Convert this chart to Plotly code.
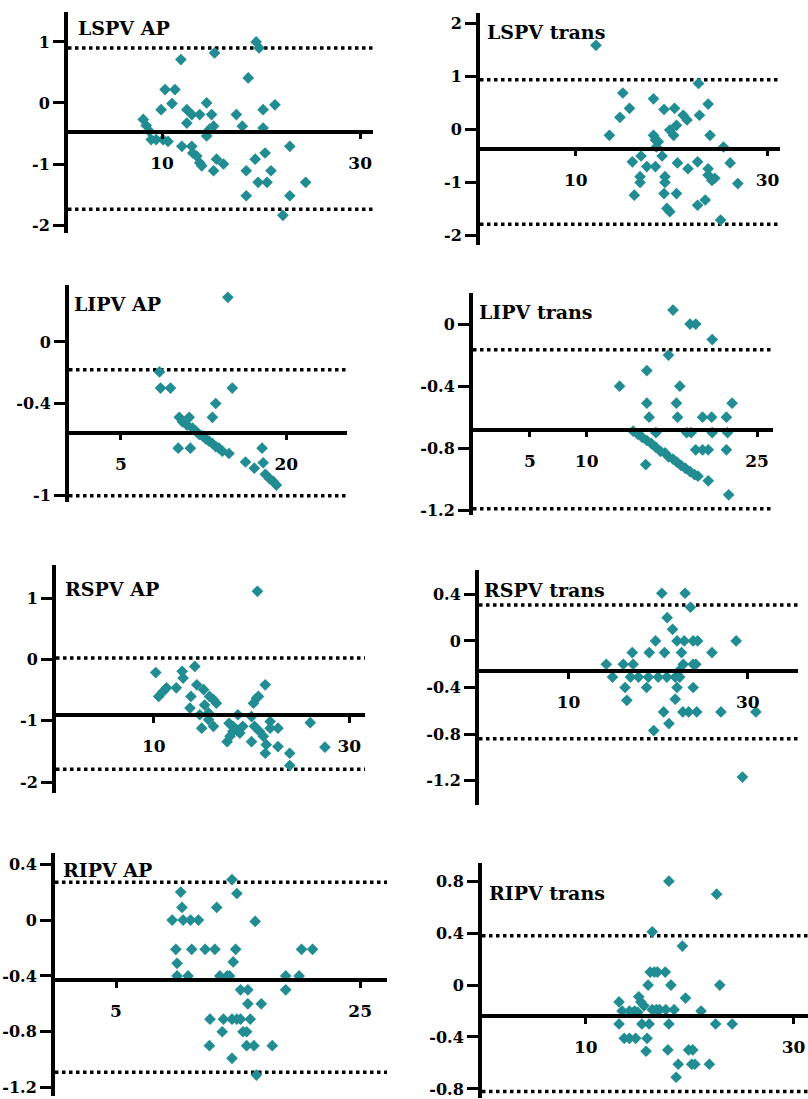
import plotly.graph_objects as go

# ---------------- data ----------------
lspv_ap_x = [8.1, 8.4, 8.7, 8.9, 9.9, 10.3, 11.0, 11.3, 9.4, 10.1, 10.6, 11.9, 12.5, 12.5, 12.0, 13.0,
             13.1, 13.5, 13.8, 14.0, 13.0, 13.8, 14.5, 15.0, 14.5, 14.8, 15.2, 15.3, 15.5, 15.2, 16.2,
             17.5, 18.1, 18.7, 19.5, 19.8, 18.5, 18.5, 19.4, 19.7, 20.2, 20.2, 20.4, 20.6, 21.0, 21.4,
             22.2, 22.9, 22.9, 24.5]
lspv_ap_y = [-0.27, -0.37, -0.46, -0.60, -0.11, 0.22, -0.01, 0.22, -0.60, -0.60, -0.63, 0.71, -0.11, -0.33,
             -0.71, -0.71, -0.82, -0.87, -0.98, -1.03, -0.19, -0.19, 0.0, -0.19, -0.54, -0.43, -0.38, 0.82,
             -0.92, -1.11, -1.0, -0.19, -0.38, 0.41, 1.0, 0.9, -1.11, -1.52, -0.92, -1.30, -0.11, -0.41,
             -0.82, -1.30, -1.11, -0.03, -1.84, -0.71, -1.52, -1.30]
lspv_ap_limits = [0.90, -0.47, -1.74]

lspv_trans_x = [12.1, 13.5, 14.6, 14.9, 15.6, 15.9, 16.1, 16.7, 16.7, 16.8, 17.4, 18.1, 18.1, 18.3, 18.4,
                18.3, 18.6, 19.0, 19.2, 19.3, 19.3, 19.2, 19.5, 19.8, 19.8, 20.2, 20.3, 20.5, 20.5, 20.6,
                21.2, 21.6, 21.7, 22.7, 22.8, 22.9, 22.7, 23.5, 23.8, 24.0, 23.8, 23.8, 24.2, 24.5, 25.1,
                25.4, 26.1, 26.9]
lspv_trans_y = [1.59, -0.11, 0.23, 0.69, 0.40, -0.61, -1.24, -0.89, -1.0, -0.5, -0.70, 0.58, -0.11, -0.2,
                -0.33, -0.70, -0.23, -0.5, 0.38, -0.89, -1.0, -1.21, -1.49, -1.55, -0.01, -0.11, 0.40, 0.08,
                -1.21, -0.63, 0.27, 0.18, -0.74, -0.61, 0.87, 0.27, -1.43, -1.33, 0.48, -0.11, -0.74, -0.86,
                -0.96, -0.92, -1.71, -0.33, -0.63, -1.02]
lspv_trans_limits = [0.94, -0.36, -1.79]

lipv_ap_x = [14.7, 8.5, 8.6, 9.5, 15.1, 13.6, 13.3, 10.3, 11.2, 10.6, 11.0, 11.5, 11.8, 12.1, 12.4, 12.7,
             13.0, 13.3, 13.6, 13.9, 14.2, 14.8, 10.2, 11.3, 16.3, 17.1, 17.8, 17.9, 18.1, 18.5, 18.8, 19.1]
lipv_ap_y = [0.29, -0.195, -0.30, -0.30, -0.30, -0.40, -0.49, -0.49, -0.49, -0.52, -0.54, -0.56, -0.58, -0.60,
             -0.61, -0.63, -0.645, -0.66, -0.68, -0.69, -0.71, -0.725, -0.69, -0.69, -0.78, -0.82, -0.69,
             -0.785, -0.86, -0.89, -0.905, -0.93]
lipv_ap_limits = [-0.18, -0.59, -1.0]

lipv_trans_x = [17.6, 19.1, 19.6, 21.05, 17.2, 15.3, 12.9, 18.2, 15.3, 17.9, 22.8, 15.5, 18.0, 20.2, 21.0,
                22.3, 16.1, 18.8, 19.2, 21.05, 22.4, 19.6, 20.2, 20.7, 22.3, 15.2, 22.5, 20.7,
                14.1, 14.5, 14.9, 15.3, 15.7, 16.1, 16.5, 16.9, 17.2, 17.6, 17.95, 18.3, 18.7, 19.1, 19.5, 19.8]
lipv_trans_y = [0.09, 0.0, 0.0, -0.10, -0.20, -0.30, -0.40, -0.40, -0.51, -0.51, -0.51, -0.60, -0.60, -0.60,
                -0.60, -0.60, -0.70, -0.70, -0.70, -0.70, -0.70, -0.81, -0.81, -0.81, -0.81, -0.905, -1.10,
                -1.01, -0.69, -0.71, -0.73, -0.75, -0.77, -0.795, -0.82, -0.83, -0.855, -0.87, -0.89, -0.91,
                -0.93, -0.95, -0.97, -0.98]
lipv_trans_limits = [-0.165, -0.68, -1.19]

rspv_ap_x = [20.6, 10.2, 10.5, 10.95, 11.3, 12.3, 12.9, 13.0, 13.8, 13.7, 14.2, 14.4, 14.7, 14.9, 15.1,
             15.2, 15.6, 15.7, 16.1, 16.4, 15.6, 16.1, 17.5, 17.8, 18.1, 17.7, 18.1, 18.5, 18.6, 18.8,
             19.1, 20.0, 20.0, 20.2, 20.5, 20.7, 20.3, 20.8, 21.2, 21.5, 21.4, 21.4, 21.9, 22.7, 22.7,
             23.9, 23.9, 26.0, 27.5, 21.9]
rspv_ap_y = [1.12, -0.21, -0.60, -0.52, -0.46, -0.46, -0.19, -0.30, -0.60, -0.79, -0.11, -0.41, -0.90, -1.12,
             -0.49, -0.74, -0.98, -0.60, -0.65, -0.71, -0.87, -1.09, -1.34, -1.25, -1.17, -1.04, -1.09,
             -1.15, -0.90, -1.20, -1.09, -1.34, -0.93, -0.71, -0.63, -0.60, -1.09, -1.17, -1.25, -1.39,
             -0.41, -1.53, -1.01, -1.12, -1.42, -1.53, -1.73, -1.03, -1.43, -1.12]
rspv_ap_limits = [0.03, -0.90, -1.79]

rspv_trans_x = [20.4, 23.0, 23.6, 21.0, 21.6, 19.7, 22.1, 22.9, 23.9, 24.4, 28.7, 17.1, 19.0, 20.7, 22.6,
                26.0, 14.2, 16.1, 17.2, 22.8, 23.9, 24.2, 14.9, 16.9, 17.8, 18.9, 20.0, 20.96, 21.9, 22.4,
                16.3, 18.7, 22.1, 23.9, 16.5, 21.9, 20.6, 22.75, 23.4, 24.3, 27.0, 30.9, 21.2, 19.5, 29.4,
                22.4]
rspv_trans_y = [0.41, 0.41, 0.29, 0.20, 0.10, 0.0, 0.0, 0.0, 0.0, 0.0, 0.0, -0.10, -0.10, -0.10, -0.10,
                -0.10, -0.20, -0.20, -0.20, -0.20, -0.20, -0.20, -0.31, -0.31, -0.31, -0.31, -0.31, -0.31,
                -0.31, -0.31, -0.40, -0.40, -0.40, -0.40, -0.51, -0.50, -0.61, -0.61, -0.61, -0.61, -0.61,
                -0.61, -0.71, -0.77, -1.17, -0.25]
rspv_trans_limits = [0.31, -0.257, -0.84]

ripv_ap_x = [14.5, 14.9, 10.3, 10.4, 13.25, 9.6, 10.5, 11.1, 11.75, 16.4, 9.9, 11.2, 12.3, 13.1, 14.8, 20.2,
             21.1, 10.0, 14.6, 10.0, 10.9, 13.5, 14.1, 14.3, 18.9, 20.0, 15.2, 15.8, 18.9, 15.8, 16.9,
             12.7, 13.8, 14.5, 14.9, 15.2, 16.0, 13.7, 15.4, 15.7, 12.65, 15.7, 16.3, 17.8, 14.5, 16.5]
ripv_ap_y = [0.29, 0.19, 0.20, 0.09, 0.09, 0.0, 0.0, 0.0, 0.0, -0.01, -0.21, -0.21, -0.21, -0.21, -0.21,
             -0.21, -0.21, -0.31, -0.30, -0.40, -0.40, -0.40, -0.40, -0.40, -0.40, -0.40, -0.50, -0.50,
             -0.50, -0.60, -0.60, -0.71, -0.71, -0.71, -0.71, -0.71, -0.71, -0.80, -0.80, -0.80, -0.90,
             -0.90, -0.90, -0.90, -0.99, -1.11]
ripv_ap_limits = [0.27, -0.43, -1.09]

ripv_trans_x = [18.0, 22.6, 16.4, 19.3, 16.2, 16.6, 16.9, 17.65, 16.0, 18.2, 22.9, 19.6, 13.2, 15.1, 15.3,
                15.6, 13.5, 14.2, 14.7, 16.4, 17.1, 17.7, 18.5, 21.1, 13.2, 15.4, 16.1, 18.0, 22.5, 24.1,
                13.7, 14.2, 14.8, 15.9, 15.8, 17.9, 19.9, 20.3, 18.9, 20.2, 20.5, 21.9, 18.7, 15.0, 16.8]
ripv_trans_y = [0.80, 0.70, 0.41, 0.30, 0.10, 0.10, 0.10, 0.10, 0.0, 0.0, 0.0, -0.10, -0.13, -0.09, -0.13,
                -0.16, -0.20, -0.20, -0.20, -0.19, -0.19, -0.19, -0.19, -0.20, -0.30, -0.30, -0.30, -0.30,
                -0.30, -0.30, -0.41, -0.41, -0.41, -0.41, -0.51, -0.50, -0.50, -0.50, -0.61, -0.61, -0.61,
                -0.61, -0.71, -0.21, -0.19]
ripv_trans_limits = [0.38, -0.24, -0.82]

# tick values / labels
lspv_ap_yticks = [1, 0, -1, -2]
lspv_trans_yticks = [2, 1, 0, -1, -2]
lipv_ap_yticks = [0, -0.4, -1]
lipv_trans_yticks = [0, -0.4, -0.8, -1.2]
rspv_ap_yticks = [1, 0, -1, -2]
rspv_trans_yticks = [0.4, 0, -0.4, -0.8, -1.2]
ripv_ap_yticks = [0.4, 0, -0.4, -0.8, -1.2]
ripv_trans_yticks = [0.8, 0.4, 0, -0.4, -0.8]

lspv_ap_xticks = [10, 30]
lspv_trans_xticks = [10, 30]
lipv_ap_xticks = [5, 20]
lipv_trans_xticks = [5, 10, 25]
rspv_ap_xticks = [10, 30]
rspv_trans_xticks = [10, 30]
ripv_ap_xticks = [5, 25]
ripv_trans_xticks = [10, 30]

panel_titles = ["LSPV AP", "LSPV trans", "LIPV AP", "LIPV trans",
                "RSPV AP", "RSPV trans", "RIPV AP", "RIPV trans"]

# ---------------- layout geometry (pixels) ----------------
W, H = 808, 1099
panels = [
    dict(x=lspv_ap_x, y=lspv_ap_y, lim=lspv_ap_limits, yt=lspv_ap_yticks, xt=lspv_ap_xticks,
         px=(68, 373), py=(12, 233), xr=(0.5, 31.3), yr=(-2.13, 1.49), tp=(76, 28)),
    dict(x=lspv_trans_x, y=lspv_trans_y, lim=lspv_trans_limits, yt=lspv_trans_yticks, xt=lspv_trans_xticks,
         px=(480, 780), py=(13, 245), xr=(0, 31.3), yr=(-2.18, 2.2), tp=(485, 32)),
    dict(x=lipv_ap_x, y=lipv_ap_y, lim=lipv_ap_limits, yt=lipv_ap_yticks, xt=lipv_ap_xticks,
         px=(69, 347), py=(285, 502), xr=(0.3, 25.5), yr=(-1.04, 0.37), tp=(72, 304)),
    dict(x=lipv_trans_x, y=lipv_trans_y, lim=lipv_trans_limits, yt=lipv_trans_yticks, xt=lipv_trans_xticks,
         px=(473, 773), py=(293, 515), xr=(0, 26.4), yr=(-1.23, 0.2), tp=(477, 312)),
    dict(x=rspv_ap_x, y=rspv_ap_y, lim=rspv_ap_limits, yt=rspv_ap_yticks, xt=rspv_ap_xticks,
         px=(56, 365), py=(565, 793), xr=(0, 31.6), yr=(-2.18, 1.55), tp=(63, 589)),
    dict(x=rspv_trans_x, y=rspv_trans_y, lim=rspv_trans_limits, yt=rspv_trans_yticks, xt=rspv_trans_xticks,
         px=(479, 798), py=(570, 805), xr=(0, 35.6), yr=(-1.41, 0.61), tp=(482, 590)),
    dict(x=ripv_ap_x, y=ripv_ap_y, lim=ripv_ap_limits, yt=ripv_ap_yticks, xt=ripv_ap_xticks,
         px=(55, 387), py=(853, 1096), xr=(0, 27.2), yr=(-1.26, 0.48), tp=(61, 870)),
    dict(x=ripv_trans_x, y=ripv_trans_y, lim=ripv_trans_limits, yt=ripv_trans_yticks, xt=ripv_trans_xticks,
         px=(482, 808), py=(863, 1098), xr=(0, 31.4), yr=(-0.87, 0.94), tp=(487, 893)),
]

FONT = "DejaVu Serif"
TEAL = "#218d92"


def fmt(v):
    s = str(int(v)) if v == int(v) else ("%g" % v)
    return "<b>" + s + "</b>"


fig = go.Figure()
layout = dict(width=W, height=H, margin=dict(l=0, r=0, t=0, b=0, autoexpand=False),
              paper_bgcolor="white", plot_bgcolor="white", showlegend=False,
              shapes=[], annotations=[])

for i, p in enumerate(panels, start=1):
    xs = "" if i == 1 else str(i)
    xd = [p["px"][0] / W, p["px"][1] / W]
    yd = [1 - p["py"][1] / H, 1 - p["py"][0] / H]
    upper, bias, lower = p["lim"]
    pos = yd[0] + (bias - p["yr"][0]) / (p["yr"][1] - p["yr"][0]) * (yd[1] - yd[0])

    fig.add_trace(go.Scatter(
        x=p["x"], y=p["y"], mode="markers", xaxis="x" + xs, yaxis="y" + xs,
        marker=dict(symbol="diamond", size=9, color=TEAL, line=dict(width=0)),
        cliponaxis=False))

    layout["xaxis" + xs] = dict(
        domain=xd, range=list(p["xr"]), anchor="free", position=pos, automargin=False,
        showline=True, linewidth=3.5, linecolor="black", showgrid=False, zeroline=False,
        ticks="outside", ticklen=6, tickwidth=3, tickcolor="black",
        tickvals=p["xt"], ticktext=[fmt(v) for v in p["xt"]],
        tickfont=dict(family=FONT, size=17, color="black", weight="bold"),
        ticklabelstandoff=9)
    layout["yaxis" + xs] = dict(
        domain=yd, range=list(p["yr"]), anchor="x" + xs, automargin=False,
        showline=True, linewidth=4, linecolor="black", showgrid=False, zeroline=False,
        ticks="outside", ticklen=11, tickwidth=3, tickcolor="black",
        tickvals=p["yt"], ticktext=[fmt(v) for v in p["yt"]],
        tickfont=dict(family=FONT, size=16, color="black", weight="bold"),
        ticklabelstandoff=0)

    for val in (upper, lower):
        layout["shapes"].append(dict(
            type="line", xref="x" + xs + " domain", x0=0, x1=1,
            yref="y" + xs, y0=val, y1=val, layer="below",
            line=dict(color="black", width=3.5, dash="dot")))

    layout["annotations"].append(dict(
        text="<b>" + panel_titles[i - 1] + "</b>", xref="paper", yref="paper",
        x=p["tp"][0] / W, y=1 - p["tp"][1] / H, xanchor="left", yanchor="middle",
        showarrow=False, font=dict(family=FONT, size=19, color="black")))

fig.update_layout(**layout)
fig.write_html("out.html", config={"displayModeBar": False},
               post_script="document.body.style.margin='0';document.body.style.overflow='hidden';")
